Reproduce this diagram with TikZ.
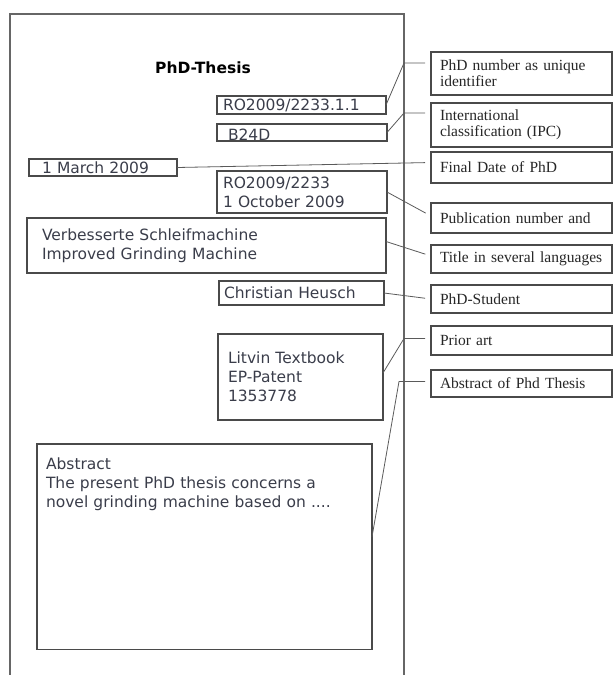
\documentclass[tikz,border=0pt]{standalone}
\usepackage{fontspec}
\setmainfont{Liberation Serif}
\newfontfamily\vfont{DejaVu Sans}
\usetikzlibrary{positioning}
\definecolor{FieldText}{HTML}{3A3D4A}
\definecolor{BoxLine}{HTML}{4A4A4A}
\definecolor{Wire}{HTML}{5A5A5A}
\newcommand{\fldfont}{\vfont\fontsize{15.5}{19}\selectfont}
\newcommand{\lblfont}{\fontsize{15.5}{16}\selectfont}

\begin{document}
\begin{tikzpicture}[
    x=1pt,y=-1pt,
    fld/.style={draw=BoxLine,line width=1.1pt,font=\fldfont,text=FieldText,align=left,anchor=north west,inner ysep=0pt,outer sep=0pt},
    lbl/.style={draw=BoxLine,line width=1.1pt,font=\lblfont,text=black!85,align=left,text width=163pt,inner xsep=9pt,inner ysep=0pt,outer sep=0pt},
    con/.style={Wire,line width=0.8pt,shorten >=6pt},
    sheet/.style={draw=black!60,line width=1.1pt}
  ]
  \useasboundingbox (0,0) rectangle (614,675);
  \coordinate (edge) at (404,14);
  \draw[sheet] (10,675) -- (10,14) -- (edge) -- (404,675);
  \node[font=\vfont\bfseries\fontsize{15.5}{19}\selectfont] (head) at (203,68) {PhD-Thesis};

  \node[fld,inner xsep=6pt,text width=157pt,minimum height=18pt] (num) at (217,96) {RO2009/2233.1.1};
  \node[fld,inner xsep=11pt,text width=148pt,minimum height=17pt,text height=16pt] (ipc) at (217,124) {B24D};
  \node[fld,inner xsep=13pt,text width=122pt,minimum height=17pt] (date) at (29,159) {1 March 2009};
  \node[fld,inner xsep=6pt,text width=158pt,minimum height=42pt] (pub) at (217,171) {RO2009/2233\\1 October 2009};
  \node[fld,inner xsep=15pt,text width=329pt,minimum height=55pt] (title) at (27,218) {Verbesserte Schleifmachine\\Improved Grinding Machine};
  \node[fld,inner xsep=5pt,text width=155pt,minimum height=24pt] (student) at (219,281) {Christian Heusch};
  \node[fld,inner xsep=10pt,text width=145pt,minimum height=86pt] (prior) at (218,334) {Litvin Textbook\\EP-Patent\\1353778};
  \node[fld,inner xsep=9pt,inner ysep=14pt,text width=317pt,text depth=166pt] (abstr) at (37,444) {Abstract\\The present PhD thesis concerns a\\novel grinding machine based on ....};

  \node[lbl,anchor=north west,minimum height=43pt] (numl) at (431,52) {PhD number as unique\\identifier};
  \node[lbl,minimum height=44pt,below=8pt of numl] (ipcl) {International\\classification (IPC)};
  \node[lbl,minimum height=31pt,below=5pt of ipcl] (datel) {Final Date of PhD};
  \node[lbl,minimum height=30pt,below=20pt of datel] (publ) {Publication number and};
  \node[lbl,minimum height=28pt,below=12pt of publ] (titlel) {Title in several languages};
  \node[lbl,minimum height=28pt,below=12pt of titlel] (studentl) {PhD-Student};
  \node[lbl,minimum height=29pt,below=13pt of studentl] (priorl) {Prior art};
  \node[lbl,minimum height=27pt,below=15pt of priorl] (abstrl) {Abstract of Phd Thesis};

  \draw[con] (num.east) -- ([yshift=-11pt]edge |- numl.north) -- ([yshift=-11pt]numl.north west);
  \draw[con] (ipc.east) -- ([yshift=-10pt]edge |- ipcl.north) -- ([yshift=-10pt]ipcl.north west);
  \draw[con] (date.east) -- ([yshift=5pt]datel.west);
  \draw[con] (pub.east) -- ([yshift=2pt]publ.west);
  \draw[con] ([yshift=4pt]title.east) -- ([yshift=3pt]titlel.west);
  \draw[con] (student.east) -- (studentl.west);
  \draw[con] ([yshift=4pt]prior.east) -- ([yshift=2pt]edge |- priorl.west) -- ([yshift=2pt]priorl.west);
  \draw[con] ([yshift=10pt]abstr.east) -- ([xshift=-5pt,yshift=2pt]edge |- abstrl.west) -- ([yshift=2pt]abstrl.west);
\end{tikzpicture}
\end{document}
